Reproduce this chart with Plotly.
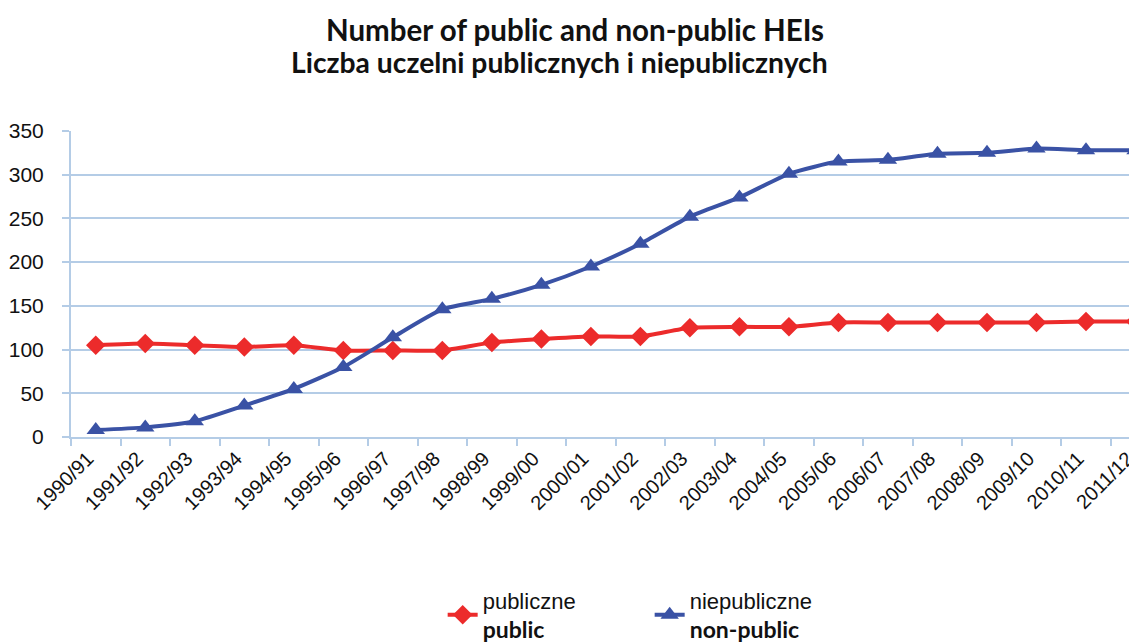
import plotly.graph_objects as go

years = ["1990/91", "1991/92", "1992/93", "1993/94", "1994/95", "1995/96", "1996/97",
         "1997/98", "1998/99", "1999/00", "2000/01", "2001/02", "2002/03", "2003/04",
         "2004/05", "2005/06", "2006/07", "2007/08", "2008/09", "2009/10", "2010/11",
         "2011/12"]
public = [105, 107, 105, 103, 105, 99, 99, 99, 108, 112, 115, 115, 125, 126, 126,
          131, 131, 131, 131, 131, 132, 132]
non_public = [8, 11, 18, 36, 55, 80, 114, 146, 158, 174, 195, 221, 252, 274, 301,
              315, 317, 324, 325, 330, 328, 328]

title_en = "Number of public and non-public HEIs"
title_pl = "Liczba uczelni publicznych i niepublicznych"

RED = "#EC2B2B"
BLUE = "#3A52A5"
GRID = "#B4CCE6"
TXT = "#111111"

W, H = 1129, 635  # page body adds an 8px margin in the browser

fig = go.Figure()
fig.add_trace(go.Scatter(
    x=years, y=public, mode="lines+markers",
    name="publiczne<br><span style='font-family:Lato;font-size:23px'><b>public</b></span>",
    line=dict(color=RED, width=4, shape="spline", smoothing=0.6),
    marker=dict(symbol="diamond", size=15, color=RED),
))
fig.add_trace(go.Scatter(
    x=years, y=non_public, mode="lines+markers",
    name="niepubliczne<br><span style='font-family:Lato;font-size:23px'><b>non-public</b></span>",
    line=dict(color=BLUE, width=4, shape="spline", smoothing=0.6),
    marker=dict(symbol="triangle-up", size=16, color=BLUE),
))

fig.update_layout(
    width=W, height=H,
    margin=dict(l=63, r=0, t=123, b=206),
    paper_bgcolor="white", plot_bgcolor="white",
    font=dict(family="Liberation Sans, Arial", color=TXT),
    legend=dict(
        orientation="h", x=0.385, xref="container", xanchor="left",
        y=0.044, yref="container", yanchor="middle",
        font=dict(family="Liberation Sans, Arial", size=22, color=TXT),
        entrywidth=162, entrywidthmode="pixels",
        bgcolor="rgba(0,0,0,0)",
    ),
    showlegend=True,
    annotations=[
        dict(text="<b>" + title_en + "</b>", xref="paper", yref="paper",
             x=(575 - 71) / 1066, y=1 + (131 - 29) / 306, xanchor="center", yanchor="middle",
             showarrow=False, font=dict(family="Lato", size=29.5, color=TXT)),
        dict(text="<b>" + title_pl + "</b>", xref="paper", yref="paper",
             x=(559 - 71) / 1066, y=1 + (131 - 62) / 306, xanchor="center", yanchor="middle",
             showarrow=False, font=dict(family="Lato", size=28.3, color=TXT)),
    ],
)
fig.update_xaxes(
    type="category", range=[-0.5, 21.03], automargin=False,
    showline=True, linecolor=GRID, linewidth=2,
    ticks="outside", tickson="boundaries", ticklen=7, tickcolor=GRID, tickwidth=2,
    tickangle=-45, tickfont=dict(size=20, color=TXT), ticklabelshift=-8,
    showgrid=False,
)
fig.update_yaxes(
    range=[0, 350], tickvals=[0, 50, 100, 150, 200, 250, 300, 350], automargin=False,
    showline=True, linecolor=GRID, linewidth=2,
    ticks="outside", ticklen=7, tickcolor=GRID, tickwidth=2,
    showgrid=True, gridcolor=GRID, gridwidth=1.5,
    tickfont=dict(size=21, color=TXT), ticklabelstandoff=14,
    zeroline=False,
)

fig.write_html("out.html")
